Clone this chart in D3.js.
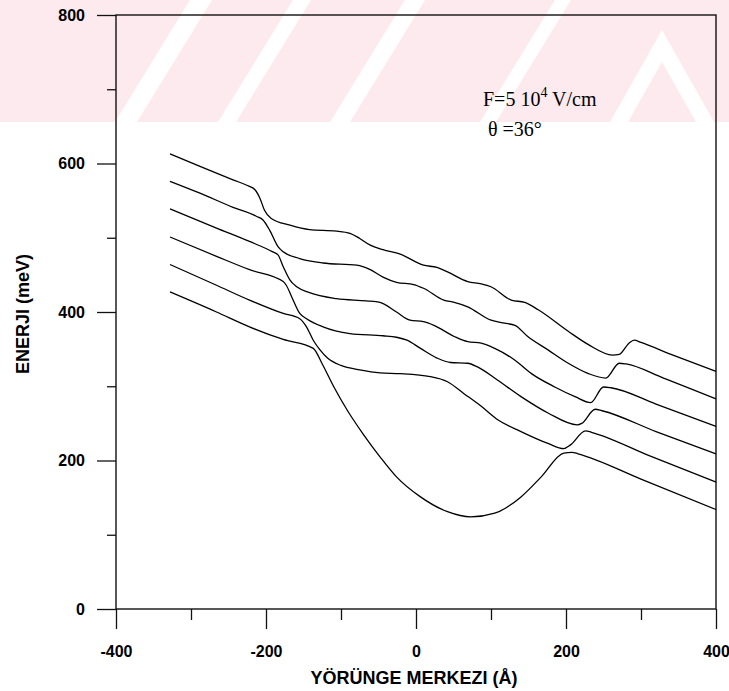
<!DOCTYPE html>
<html><head><meta charset="utf-8">
<script src="https://cdn.jsdelivr.net/npm/d3@7"></script>
<style>body{margin:0;background:#fff}</style>
</head><body>
<svg id="chart" width="729" height="691" xmlns="http://www.w3.org/2000/svg"></svg>
<script>
// ---- data ----
const xTicksMajor = [-400, -200, 0, 200, 400];
const xTicksMinor = [-300, -100, 100, 300];
const yTicksMajor = [0, 200, 400, 600, 800];
const yTicksMinor = [100, 300, 500, 700];
const xLabel = "YÖRÜNGE MERKEZI (Å)";
const yLabel = "ENERJI (meV)";

// energy levels: [orbit centre (Å), energy (meV)]
const level1 = [[-328,613],[-288,596],[-244,578],[-224,570],[-215,565],[-208,553],[-202,537],[-193,526],[-168,517],[-142,511],[-106,509],[-88,506],[-75,499],[-61,490],[-44,484],[-21,478],[10,463],[28,460],[42,454],[69,441],[87,438],[100,434],[127,416],[145,413],[163,403],[203,374],[230,356],[262,342],[271,343],[284,358],[291,362],[300,359],[340,343],[400,320]];
const level2 = [[-328,576],[-288,560],[-244,541],[-213,529],[-204,524],[-195,510],[-184,488],[-177,481],[-155,472],[-124,466],[-79,463],[-61,457],[-44,447],[-26,440],[-3,437],[10,432],[37,416],[51,413],[69,407],[100,389],[118,385],[132,382],[149,367],[176,349],[203,331],[230,317],[253,311],[271,331],[280,330],[330,311],[400,283]];
const level3 = [[-328,539],[-266,513],[-222,495],[-191,481],[-184,477],[-177,461],[-168,443],[-159,434],[-142,426],[-106,418],[-66,415],[-48,413],[-26,400],[-8,389],[10,387],[24,382],[51,367],[69,360],[87,358],[105,351],[132,335],[154,317],[185,299],[212,286],[233,278],[250,299],[260,298],[320,276],[400,246]];
const level4 = [[-328,501],[-266,475],[-222,457],[-177,441],[-173,436],[-166,421],[-155,398],[-146,391],[-124,380],[-88,371],[-44,368],[-26,366],[-12,362],[6,351],[28,338],[46,332],[69,331],[82,326],[109,308],[140,286],[176,264],[215,248],[221,250],[239,269],[248,267],[320,239],[400,209]];
const level5 = [[-328,464],[-266,436],[-222,416],[-177,398],[-155,391],[-146,380],[-137,362],[-128,349],[-118,338],[-100,328],[-75,322],[-48,318],[-21,317],[19,313],[42,306],[64,290],[87,273],[109,255],[140,239],[176,223],[197,216],[206,221],[226,240],[234,238],[310,207],[400,171]];
const level6 = [[-328,427],[-266,400],[-222,380],[-177,363],[-137,351],[-125,330],[-110,300],[-90,265],[-70,235],[-48,205],[-26,178],[6,151],[42,131],[73,124],[105,129],[140,151],[167,178],[197,210],[208,211],[216,209],[300,175],[400,134]];
const levels = [level1, level2, level3, level4, level5, level6];

// ---- drawing ----
const W = 729, H = 691;
const svg = d3.select("#chart");
const x = d3.scaleLinear().domain([-400, 400]).range([116, 716]);
const y = d3.scaleLinear().domain([0, 800]).range([609, 15]);

// faint background watermark stripes (scan artefact)
const wm = svg.append("g");
wm.append("rect").attr("x", 0).attr("y", 0).attr("width", W).attr("height", 122).attr("fill", "#fdeaee");
const gaps = [[115, 137], [218, 236], [330, 350], [480, 496]];
gaps.forEach(g => {
  const s = 75;
  wm.append("polygon")
    .attr("points", `${g[0]},122 ${g[1]},122 ${g[1] + s},0 ${g[0] + s},0`)
    .attr("fill", "#fff");
});
wm.append("polygon").attr("points", "610,122 628,122 662,62 696,122 714,122 662,30").attr("fill", "#fff");

const font = "'Liberation Sans', Arial, sans-serif";
const fmt = d => String(d);

// left axis
const gL = svg.append("g").attr("transform", `translate(${x(-400)},0)`);
gL.call(d3.axisLeft(y).tickValues(yTicksMajor).tickSize(19).tickPadding(12).tickFormat(fmt));
gL.append("g").call(d3.axisLeft(y).tickValues(yTicksMinor).tickSize(9).tickFormat(""));
// bottom axis
const gB = svg.append("g").attr("transform", `translate(0,${y(0)})`);
gB.call(d3.axisBottom(x).tickValues(xTicksMajor).tickSize(20).tickPadding(17).tickFormat(fmt));
gB.append("g").call(d3.axisBottom(x).tickValues(xTicksMinor).tickSize(11).tickFormat(""));

svg.selectAll(".domain").remove();
svg.selectAll(".tick line").attr("stroke", "#111").attr("stroke-width", 1.3);
svg.selectAll(".tick text").attr("font-family", font).attr("font-weight", "bold")
  .attr("font-size", 16).attr("fill", "#000");

// frame
svg.append("rect").attr("x", x(-400)).attr("y", y(800))
  .attr("width", x(400) - x(-400)).attr("height", y(0) - y(800))
  .attr("fill", "none").attr("stroke", "#111").attr("stroke-width", 1.4);

// curves
const line = d3.line().x(d => x(d[0])).y(d => y(d[1])).curve(d3.curveMonotoneX);
svg.append("g").selectAll("path").data(levels).join("path")
  .attr("d", line).attr("fill", "none").attr("stroke", "#000").attr("stroke-width", 1.3);

// axis titles
svg.append("text").attr("x", 414).attr("y", 684).attr("text-anchor", "middle")
  .attr("font-family", font).attr("font-weight", "bold").attr("font-size", 18).text(xLabel);
svg.append("text").attr("transform", "translate(29,314) rotate(-90)").attr("text-anchor", "middle")
  .attr("font-family", font).attr("font-weight", "bold").attr("font-size", 18).text(yLabel);

// annotation
const serif = "'Liberation Serif', 'Times New Roman', serif";
const t1 = svg.append("text").attr("x", 483).attr("y", 106).attr("font-family", serif).attr("font-size", 20);
t1.append("tspan").text("F=5 10");
t1.append("tspan").attr("font-size", 14).attr("dy", -9).text("4");
t1.append("tspan").attr("dy", 9).text(" V/cm");
svg.append("text").attr("x", 488).attr("y", 136).attr("font-family", serif).attr("font-size", 20).text("θ =36°");
</script>
</body></html>
